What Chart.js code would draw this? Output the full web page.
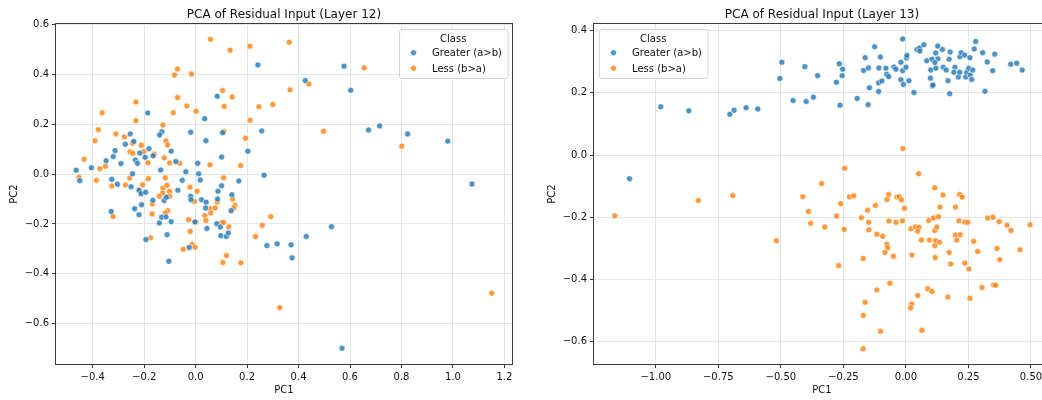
<!DOCTYPE html>
<html>
<head>
<meta charset="utf-8">
<title>PCA of Residual Input</title>
<script src="https://cdn.jsdelivr.net/npm/chart.js@4.4.1/dist/chart.umd.min.js"></script>
<style>
  html, body { margin: 0; padding: 0; background: #fff; overflow: hidden; }
  #wrap { position: relative; width: 1042px; height: 400px; overflow: hidden; }
  canvas { position: absolute; top: 0; }
  #layer12 { left: 0; }
  #layer13 { left: 521px; }
</style>
</head>
<body>
<div id="wrap">
  <canvas id="layer12" width="521" height="400"></canvas>
  <canvas id="layer13" width="540" height="400"></canvas>
</div>
<script>
// ---- data -------------------------------------------------------------
const classLabels = ['Greater (a>b)', 'Less (b>a)'];
const classColors = ['rgba(31,119,180,0.8)', 'rgba(255,127,14,0.8)'];

// Layer 12 projections
const l12GreaterPC1 = [0.242,0.084,-0.186,0.035,0.257,-0.131,-0.140,-0.254,-0.273,-0.240,-0.019,0.040,0.105,-0.313,-0.320,-0.348,-0.290,-0.405,-0.464,-0.450,-0.234,-0.226,-0.217,-0.196,-0.181,-0.165,-0.095,-0.077,-0.136,-0.038,0.008,0.012,0.018,-0.052,-0.069,0.101,0.203,0.266,0.168,0.101,0.087,-0.326,-0.304,-0.251,-0.245,-0.220,-0.212,-0.194,-0.166,-0.210,-0.122,-0.114,-0.019,-0.018,0.023,0.041,0.085,0.141,0.577,0.426,0.603,0.672,0.715,0.824,0.980,1.074,-0.328,-0.237,-0.220,-0.132,-0.115,-0.141,-0.095,-0.193,-0.111,-0.104,0.039,0.044,-0.003,0.082,0.096,0.098,0.119,0.127,0.138,-0.025,0.277,0.317,0.528,0.430,0.371,0.375,0.569];
const l12GreaterPC2 = [0.438,0.312,0.245,0.222,0.173,0.170,0.157,0.161,0.120,0.131,0.168,0.134,0.166,0.094,0.070,0.053,0.042,0.025,0.015,-0.027,0.056,0.043,0.084,0.067,0.102,0.073,0.092,0.050,0.016,0.009,0.043,0.001,-0.024,-0.025,-0.065,0.068,0.092,-0.005,-0.028,-0.047,-0.069,-0.021,-0.041,-0.051,0.001,-0.065,-0.079,-0.073,-0.105,-0.123,-0.106,-0.093,-0.089,-0.103,-0.103,-0.113,-0.100,-0.083,0.433,0.375,0.336,0.177,0.193,0.161,0.132,-0.040,-0.150,-0.139,-0.163,-0.173,-0.172,-0.196,-0.191,-0.263,-0.243,-0.350,-0.136,-0.218,-0.192,-0.199,-0.212,-0.247,-0.250,-0.236,-0.147,-0.295,-0.287,-0.280,-0.211,-0.250,-0.284,-0.336,-0.699];
const l12LessPC1 = [0.058,0.134,0.211,0.364,0.367,-0.070,-0.082,-0.016,-0.232,-0.363,-0.232,-0.070,-0.034,-0.087,0.002,0.105,0.142,0.111,0.246,0.300,0.212,-0.378,-0.391,-0.310,-0.277,-0.127,-0.115,-0.109,-0.255,-0.245,-0.244,-0.211,-0.201,-0.161,-0.185,-0.122,-0.101,-0.062,0.110,0.194,0.056,0.175,-0.433,-0.372,-0.350,-0.453,-0.385,-0.326,-0.273,-0.256,-0.184,-0.118,-0.206,-0.127,-0.111,-0.128,-0.101,-0.101,-0.141,-0.216,-0.022,0.006,-0.004,0.109,0.144,0.153,-0.168,0.655,0.440,0.497,0.801,-0.321,-0.169,-0.108,-0.118,-0.175,-0.027,-0.021,0.002,-0.013,-0.002,-0.048,0.036,0.040,0.057,0.059,0.076,0.084,0.148,0.099,0.108,0.129,0.120,0.106,0.176,0.233,0.259,0.292,0.327,1.151];
const l12LessPC2 = [0.541,0.497,0.513,0.529,0.338,0.421,0.397,0.401,0.289,0.246,0.214,0.307,0.273,0.246,0.252,0.335,0.309,0.271,0.270,0.279,0.216,0.178,0.134,0.161,0.149,0.197,0.133,0.117,0.089,0.124,0.083,0.116,0.090,0.080,0.045,0.065,0.044,0.043,0.171,0.144,0.037,0.034,0.059,0.021,0.031,-0.013,-0.025,-0.048,-0.044,-0.016,-0.019,-0.015,-0.043,-0.056,-0.045,-0.076,-0.069,-0.089,-0.089,-0.069,-0.053,-0.069,-0.110,-0.015,-0.100,-0.125,-0.120,0.426,0.361,0.172,0.112,-0.170,-0.160,-0.147,-0.156,-0.256,-0.183,-0.230,-0.192,-0.282,-0.294,-0.302,-0.167,-0.186,-0.139,-0.156,-0.136,-0.112,-0.136,-0.195,-0.194,-0.212,-0.327,-0.355,-0.356,-0.251,-0.206,-0.171,-0.536,-0.478];

// Layer 13 projections
const l13GreaterPC1 = [-1.105,-0.980,-0.868,-0.704,-0.687,-0.639,-0.592,-0.504,-0.496,-0.451,-0.399,-0.370,-0.404,-0.353,-0.266,-0.253,-0.255,-0.278,-0.263,-0.195,-0.151,-0.146,-0.169,-0.150,-0.163,-0.125,-0.102,-0.108,-0.109,-0.096,-0.109,-0.080,-0.077,-0.069,-0.048,-0.040,-0.020,-0.013,0.000,0.002,0.004,-0.020,-0.010,0.012,-0.013,0.032,0.044,0.055,0.056,0.072,0.083,0.099,0.098,0.106,0.104,0.119,0.127,0.128,0.116,0.120,0.146,0.149,0.161,0.168,0.175,0.173,0.177,0.196,0.192,0.210,0.215,0.216,0.221,0.235,0.239,0.243,0.251,0.256,0.257,0.263,0.267,0.273,0.279,0.307,0.325,0.316,0.347,0.355,0.419,0.443,0.465,0.108];
const l13GreaterPC2 = [-0.076,0.155,0.142,0.131,0.144,0.152,0.148,0.246,0.298,0.175,0.172,0.186,0.284,0.255,0.293,0.276,0.255,0.234,0.160,0.182,0.162,0.216,0.272,0.280,0.313,0.348,0.315,0.280,0.232,0.238,0.204,0.279,0.260,0.252,0.283,0.276,0.298,0.271,0.282,0.312,0.320,0.242,0.227,0.239,0.373,0.201,0.339,0.344,0.334,0.354,0.303,0.273,0.247,0.222,0.308,0.328,0.350,0.309,0.297,0.279,0.339,0.282,0.273,0.239,0.197,0.308,0.331,0.282,0.266,0.251,0.266,0.316,0.329,0.321,0.251,0.266,0.279,0.313,0.257,0.243,0.273,0.341,0.365,0.329,0.299,0.205,0.271,0.324,0.292,0.295,0.273,0.225];
const l13LessPC1 = [-1.164,-0.830,-0.692,-0.518,-0.012,-0.245,0.051,-0.337,0.115,-0.412,-0.226,-0.209,-0.069,-0.076,-0.036,-0.027,-0.018,0.148,0.215,0.225,-0.261,-0.390,-0.381,-0.325,-0.277,-0.247,-0.269,-0.153,-0.122,-0.178,-0.149,-0.148,-0.116,-0.093,-0.076,-0.073,-0.084,-0.050,-0.171,-0.006,-0.068,-0.040,-0.014,0.020,0.038,0.052,0.047,0.062,0.024,-0.064,-0.116,-0.163,-0.170,-0.102,-0.171,0.047,0.023,0.019,0.064,0.087,0.104,0.168,0.256,0.304,0.351,0.359,0.091,0.110,0.130,0.136,0.115,0.123,0.094,0.118,0.134,0.116,0.117,0.173,0.179,0.198,0.198,0.203,0.217,0.212,0.235,0.247,0.235,0.252,0.271,0.287,0.327,0.348,0.373,0.404,0.420,0.496,0.364,0.375,0.456];
const l13LessPC2 = [-0.195,-0.146,-0.130,-0.275,0.021,-0.042,-0.060,-0.091,-0.105,-0.134,-0.134,-0.131,-0.127,-0.143,-0.135,-0.134,-0.144,-0.128,-0.127,-0.135,-0.156,-0.181,-0.219,-0.231,-0.196,-0.239,-0.355,-0.177,-0.162,-0.201,-0.216,-0.240,-0.254,-0.261,-0.286,-0.298,-0.313,-0.325,-0.332,-0.171,-0.212,-0.216,-0.211,-0.237,-0.231,-0.232,-0.245,-0.273,-0.321,-0.412,-0.433,-0.473,-0.515,-0.566,-0.622,-0.451,-0.478,-0.491,-0.563,-0.429,-0.438,-0.456,-0.460,-0.425,-0.417,-0.418,-0.210,-0.202,-0.198,-0.167,-0.242,-0.231,-0.273,-0.275,-0.280,-0.291,-0.329,-0.313,-0.350,-0.167,-0.257,-0.273,-0.256,-0.211,-0.215,-0.216,-0.347,-0.366,-0.277,-0.310,-0.202,-0.200,-0.214,-0.225,-0.242,-0.224,-0.300,-0.336,-0.304];

// Tick positions
const l12TicksPC1 = [-0.4, -0.2, 0.0, 0.2, 0.4, 0.6, 0.8, 1.0, 1.2];
const l12TicksPC2 = [-0.6, -0.4, -0.2, 0.0, 0.2, 0.4, 0.6];
const l13TicksPC1 = [-1.0, -0.75, -0.5, -0.25, 0.0, 0.25, 0.5];
const l13TicksPC2 = [-0.6, -0.4, -0.2, 0.0, 0.2, 0.4];

// ---- drawing helpers --------------------------------------------------
const FONT_FAMILY = "'DejaVu Sans', 'Liberation Sans', sans-serif";
const TEXT_COLOR = '#111';
Chart.defaults.font.family = FONT_FAMILY;
Chart.defaults.color = TEXT_COLOR;

const points = (xs, ys) => xs.map((x, i) => ({ x: x, y: ys[i] }));
const fmt = (digits) => (v) => {
  const s = (Math.abs(v) < 1e-9 ? 0 : v).toFixed(digits);
  return s.replace('-', '\u2212');
};

function roundRectPath(ctx, x, y, w, h, r) {
  ctx.beginPath();
  ctx.moveTo(x + r, y);
  ctx.arcTo(x + w, y, x + w, y + h, r);
  ctx.arcTo(x + w, y + h, x, y + h, r);
  ctx.arcTo(x, y + h, x, y, r);
  ctx.arcTo(x, y, x + w, y, r);
  ctx.closePath();
}

// Axes frame, plot title and class legend
const axesDecor = {
  id: 'axesDecor',
  afterDatasetsDraw(chart, args, opts) {
    const { ctx, chartArea: a } = chart;
    ctx.save();
    // frame
    ctx.strokeStyle = '#3a3a3a';
    ctx.lineWidth = 1;
    ctx.strokeRect(Math.round(a.left) - 0.5, Math.round(a.top) - 0.5,
                   Math.round(a.right) - Math.round(a.left) + 1,
                   Math.round(a.bottom) - Math.round(a.top) + 1);
    // title
    ctx.fillStyle = TEXT_COLOR;
    ctx.font = '12px ' + FONT_FAMILY;
    ctx.textAlign = 'center';
    ctx.textBaseline = 'alphabetic';
    ctx.fillText(opts.title, (a.left + a.right) / 2, a.top - 6);

    // legend
    const w = 108.5, h = 49;
    const x = opts.legendCorner === 'right' ? a.right - 4.5 - w : a.left + 5;
    const y = a.top + 5;
    roundRectPath(ctx, x + 0.5, y + 0.5, w, h, 2.5);
    ctx.fillStyle = 'rgba(255,255,255,0.8)';
    ctx.fill();
    ctx.strokeStyle = '#d4d4d4';
    ctx.lineWidth = 1;
    ctx.stroke();

    ctx.font = '10px ' + FONT_FAMILY;
    ctx.fillStyle = TEXT_COLOR;
    ctx.textAlign = 'center';
    ctx.fillText(opts.legendTitle, x + w / 2, y + 12.5);
    chart.data.datasets.forEach((ds, i) => {
      const my = y + 23.7 + i * 15.6;
      ctx.beginPath();
      ctx.arc(x + 14.5, my, 3, 0, Math.PI * 2);
      ctx.fillStyle = ds.backgroundColor;
      ctx.fill();
      ctx.strokeStyle = '#fff';
      ctx.lineWidth = 0.6;
      ctx.stroke();
      ctx.fillStyle = TEXT_COLOR;
      ctx.textAlign = 'left';
      ctx.fillText(ds.label, x + 33, my + 3.6);
    });
    ctx.restore();
  }
};

function axisOptions(cfg) {
  return {
    type: 'linear',
    position: cfg.position,
    min: cfg.min,
    max: cfg.max,
    afterBuildTicks: (axis) => { axis.ticks = cfg.ticks.map((v) => ({ value: v })); },
    afterFit: (axis) => {
      if (cfg.position === 'bottom') axis.height = cfg.size; else axis.width = cfg.size;
    },
    grid: {
      color: '#e6e6e6',
      lineWidth: 1,
      drawTicks: true,
      tickLength: 4,
      tickColor: '#3a3a3a',
      tickWidth: 1
    },
    border: { display: false },
    ticks: {
      autoSkip: false,
      maxRotation: 0,
      padding: 3,
      color: TEXT_COLOR,
      font: { size: 10, family: FONT_FAMILY },
      callback: fmt(cfg.digits)
    },
    title: {
      display: true,
      text: cfg.label,
      color: TEXT_COLOR,
      font: { size: 10, family: FONT_FAMILY },
      padding: cfg.position === 'bottom' ? { top: 0, bottom: 4 } : { top: 8, bottom: 0 }
    }
  };
}

function drawPca(canvasId, cfg) {
  const datasets = cfg.series.map((s, i) => ({
    label: classLabels[i],
    data: points(s[0], s[1]),
    backgroundColor: classColors[i],
    borderColor: '#ffffff',
    pointRadius: 3,
    pointBorderWidth: 0.6,
    pointHoverRadius: 3
  }));
  return new Chart(document.getElementById(canvasId), {
    type: 'scatter',
    data: { datasets: datasets },
    plugins: [axesDecor],
    options: {
      responsive: false,
      animation: false,
      events: [],
      layout: { padding: cfg.padding },
      plugins: {
        legend: { display: false },
        title: { display: false },
        tooltip: { enabled: false },
        axesDecor: { title: cfg.title, legendTitle: 'Class', legendCorner: cfg.legendCorner }
      },
      scales: {
        x: axisOptions({ position: 'bottom', min: cfg.xRange[0], max: cfg.xRange[1], ticks: cfg.xTicks,
                         digits: cfg.xDigits, label: 'PC1', size: 36 }),
        y: axisOptions({ position: 'left', min: cfg.yRange[0], max: cfg.yRange[1], ticks: cfg.yTicks,
                         digits: 1, label: 'PC2', size: 56 })
      }
    }
  });
}

drawPca('layer12', {
  title: 'PCA of Residual Input (Layer 12)',
  series: [[l12GreaterPC1, l12GreaterPC2], [l12LessPC1, l12LessPC2]],
  xRange: [-0.5425, 1.2295], yRange: [-0.762, 0.602],
  xTicks: l12TicksPC1, yTicks: l12TicksPC2, xDigits: 1,
  padding: { left: 0, right: 9, top: 24, bottom: 0 },
  legendCorner: 'right'
});

drawPca('layer13', {
  title: 'PCA of Residual Input (Layer 13)',
  series: [[l13GreaterPC1, l13GreaterPC2], [l13LessPC1, l13LessPC2]],
  xRange: [-1.247, 0.576], yRange: [-0.671, 0.421],
  xTicks: l13TicksPC1, yTicks: l13TicksPC2, xDigits: 2,
  padding: { left: 17, right: 11, top: 24, bottom: 0 },
  legendCorner: 'left'
});
</script>
</body>
</html>
